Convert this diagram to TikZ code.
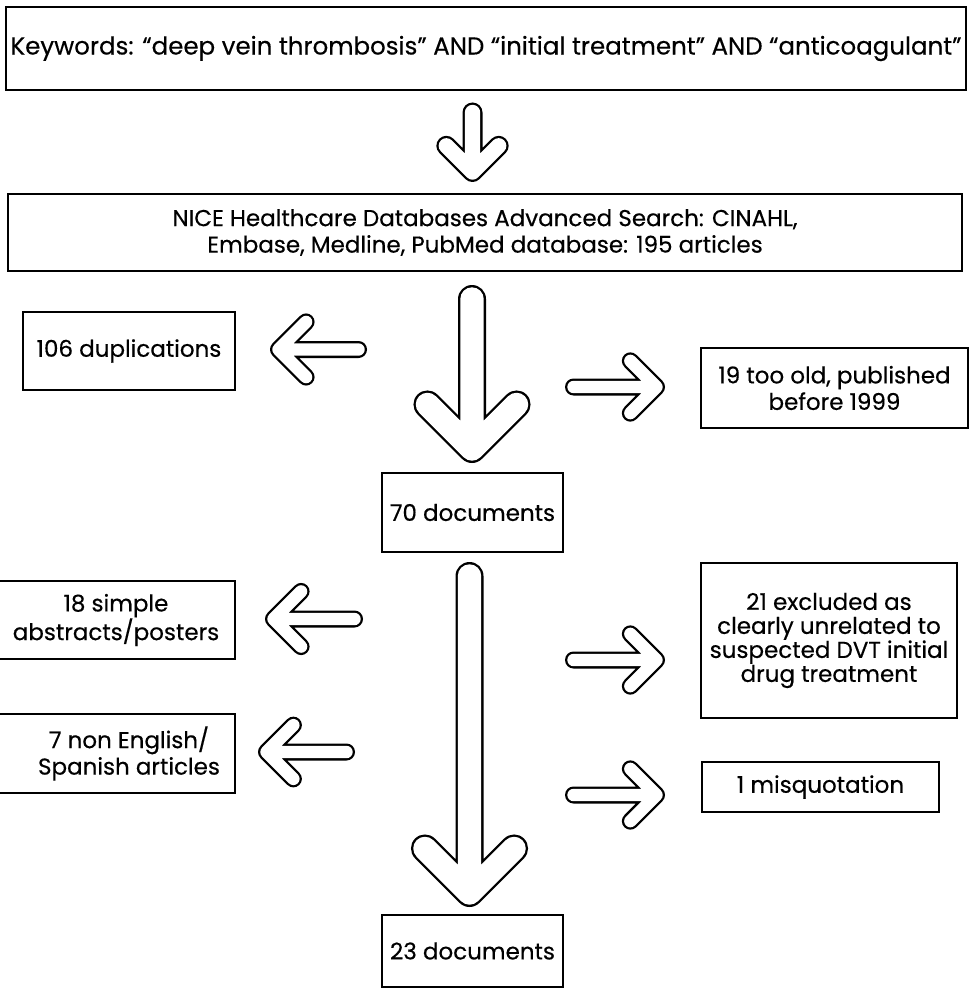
\documentclass[tikz,border=0pt]{standalone}
\usepackage{fontspec}
\setmainfont{Poppins}[FakeBold=0.4]
\usetikzlibrary{calc}
\newcommand\blkarrow[5]{%
  \foreach \col/\wd in {black/#4, white/#5}{%
    \draw[\col, line width=\wd, line cap=round, line join=round]
      (#1) -- (#2) ($(#2)!#3!45:(#1)$) -- (#2) -- ($(#2)!#3!-45:(#1)$);
  }}
\begin{document}
\begin{tikzpicture}[x=1pt,y=-1pt,
  box/.style={draw, line width=2.8pt, inner sep=0pt, align=center,
    font=\fontsize{23}{26.5}\selectfont},
  txt/.style={inner sep=0pt, align=center, font=\fontsize{23}{26.5}\selectfont}]
\useasboundingbox (0,0) rectangle (970,992);
% boxes
\node[box, minimum width=960pt, minimum height=83pt, font=\fontsize{24.5}{27}\selectfont] (kw) at (486,48.5)
  {Keywords: “deep vein thrombosis” AND “initial treatment” AND “anticoagulant”};
\node[box, minimum width=954pt, minimum height=77pt] (nice) at (485,232.5)
  {NICE Healthcare Databases Advanced Search: CINAHL,\\Embase, Medline, PubMed database: 195 articles};
\node[box, minimum width=212pt, minimum height=78pt] (dup) at (129,351) {106 duplications};
\node[box, minimum width=267pt, minimum height=80pt] (old) at (834.5,388) {19 too old, published\\before 1999};
\node[box, minimum width=181pt, minimum height=79pt] (d70) at (472.5,512.5) {70 documents};
\node[box, minimum width=238pt, minimum height=78pt] (abs) at (116,620) {18 simple\\abstracts/posters};
\node[box, minimum width=256pt, minimum height=155pt, font=\fontsize{23}{24}\selectfont] (excl) at (829,640.5)
  {21 excluded as\\clearly unrelated to\\suspected DVT initial\\drug treatment};
\node[box, minimum width=238pt, minimum height=79pt] (lang) at (116,753.5) {};
\node[txt] (langt) at (129,753.5) {7 non English/\\Spanish articles};
\node[box, minimum width=237pt, minimum height=50pt] (misq) at (820.5,787) {1 misquotation};
\node[box, minimum width=181pt, minimum height=72pt] (d23) at (472.5,951) {23 documents};
% arrow coordinates
\coordinate (a0t) at (472.5,112.5); \coordinate (a0h) at (472.5,172);
\coordinate (a1t) at (472,299);     \coordinate (a1h) at (472,449);
\coordinate (a2t) at (469.5,576);   \coordinate (a2h) at (469.5,893);
\coordinate (l1t) at (358.5,349.5); \coordinate (l1h) at (278.5,349.5);
\coordinate (l2t) at (354.5,619);   \coordinate (l2h) at (273.5,619);
\coordinate (l3t) at (346.5,752);   \coordinate (l3h) at (266.5,752);
\coordinate (r1t) at (573.5,387);   \coordinate (r1h) at (656.5,387);
\coordinate (r2t) at (573.5,660);   \coordinate (r2h) at (656.5,660);
\coordinate (r3t) at (573.5,795);   \coordinate (r3h) at (656.5,795);
% arrows
\blkarrow{a0t}{a0h}{37pt}{20pt}{15.4pt}
\blkarrow{a1t}{a1h}{63pt}{28pt}{23.4pt}
\blkarrow{a2t}{a2h}{63pt}{28pt}{23.4pt}
\blkarrow{l1t}{l1h}{39pt}{17pt}{12.4pt}
\blkarrow{l2t}{l2h}{39pt}{17pt}{12.4pt}
\blkarrow{l3t}{l3h}{38pt}{17pt}{12.4pt}
\blkarrow{r1t}{r1h}{37pt}{17pt}{12.4pt}
\blkarrow{r2t}{r2h}{37pt}{17pt}{12.4pt}
\blkarrow{r3t}{r3h}{37pt}{17pt}{12.4pt}
\end{tikzpicture}
\end{document}
